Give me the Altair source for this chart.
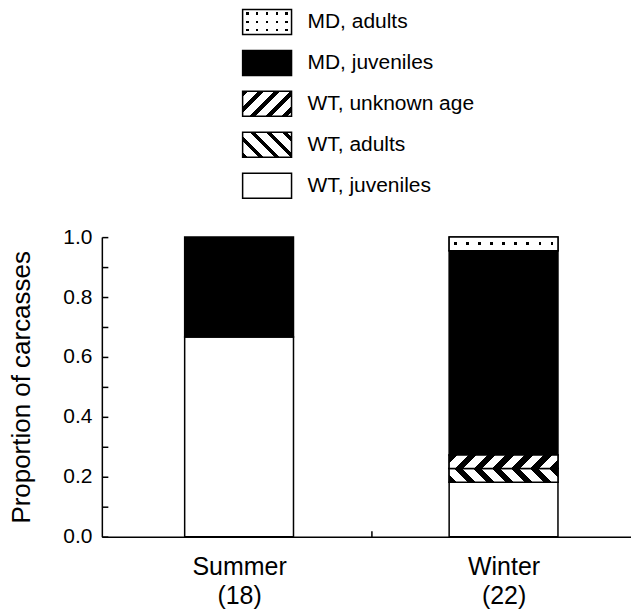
import altair as alt
import pandas as pd

# ---------------- data ----------------
seasons = ["Summer", "Winter"]
season_n = [18, 22]
categories = ["WT, juveniles", "WT, adults", "WT, unknown age", "MD, juveniles", "MD, adults"]  # stacking order, bottom -> top
summer_counts = [12, 0, 0, 6, 0]
winter_counts = [4, 1, 1, 15, 1]
legend_order = ["MD, adults", "MD, juveniles", "WT, unknown age", "WT, adults", "WT, juveniles"]
y_labels = [0.0, 0.2, 0.4, 0.6, 0.8, 1.0]
y_minor = [0.0, 0.1, 0.2, 0.3, 0.4, 0.5, 0.6, 0.7, 0.8, 0.9, 1.0]
y_title = "Proportion of carcasses"

FONT = "Liberation Sans"
W, H = 530, 300          # plot area
BAR_W = 109
X_DOMAIN = [-0.5, 1.463]

rows = []
for si, (s, counts) in enumerate(zip(seasons, [summer_counts, winter_counts])):
    for ci, (c, v) in enumerate(zip(categories, counts)):
        rows.append({"season": s, "sx": si, "category": c, "count": v, "order": ci})
df = pd.DataFrame(rows)
legend_df = pd.DataFrame({"label": legend_order})


# ---------------- pattern helpers (gradients used as fills) ----------------
def hatch(w, h, period, frac, direction):
    n = (w + h) / period
    a = (w + h) / (w * w + h * h)
    if direction == "/":
        x1, y1, x2, y2 = 0, 0, a * w, a * h
    else:
        x1, y1, x2, y2 = 0, 1, a * w, 1 - a * h
    dt = 1.0 / n
    stops = []
    t = 0.0
    while t < 1 - 1e-9:
        b = min(t + frac * dt, 1.0)
        c = min(t + dt, 1.0)
        stops += [(t, "black"), (b, "black"), (b, "white"), (c, "white")]
        t += dt
    return {"gradient": "linear", "x1": x1, "y1": y1, "x2": x2, "y2": y2,
            "stops": [{"offset": round(o, 5), "color": col} for o, col in stops]}


def bands(n, frac, on, off, vertical, shift=0.0):
    dt = 1.0 / n
    stops = []
    for i in range(n):
        t0 = i * dt
        a = t0 + dt * ((1 - frac) / 2 + shift)
        b = t0 + dt * ((1 + frac) / 2 + shift)
        stops += [(t0, off), (a, off), (a, on), (b, on), (b, off), (t0 + dt, off)]
    g = {"gradient": "linear", "x1": 0, "y1": 0, "x2": 0 if vertical else 1, "y2": 1 if vertical else 0,
         "stops": [{"offset": round(min(max(o, 0.0), 1.0), 5), "color": col} for o, col in stops]}
    return g


CLEAR = "rgba(255,255,255,0)"
total_w = sum(winter_counts)
seg_h = {c: v / total_w * H for c, v in zip(categories, winter_counts)}

# ---------------- main chart ----------------
base = (
    alt.Chart(df)
    .transform_stack(stack="count", groupby=["season"], as_=["y0", "y1"], offset="normalize",
                     sort=[alt.SortField("order", order="ascending")])
    .transform_filter("datum.count > 0")
)

x_scale = alt.Scale(domain=X_DOMAIN, nice=False, zero=False)
y_scale = alt.Scale(domain=[0, 1], nice=False, zero=False)

label_arr = "[" + ",".join(f"['{s}','({n})']" for s, n in zip(seasons, season_n)) + "]"

x_axis_main = alt.Axis(values=[0, 1], labelExpr=f"{label_arr}[datum.value]", ticks=False, tickSize=0,
                       domain=True, domainColor="black", domainWidth=1.5, grid=False, title=None,
                       labelFontSize=25, labelLineHeight=29, labelPadding=18, labelColor="black",
                       labelFont=FONT)
y_axis_main = alt.Axis(values=y_labels, format=".1f", ticks=False, tickSize=0, domain=True,
                       domainColor="black", domainWidth=1.5, grid=False, title=y_title,
                       labelFontSize=21, labelPadding=10, labelColor="black", labelFont=FONT,
                       titleFontSize=26, titleFontWeight="normal", titleColor="black",
                       titlePadding=28, titleFont=FONT)
x_axis_tick = alt.Axis(orient="top", offset=-H, values=[0.5], ticks=True, tickSize=6, tickColor="black",
                       tickWidth=1.5, labels=False, domain=False, grid=False, title=None)
y_axis_tick = alt.Axis(orient="right", offset=-W, values=y_minor, ticks=True, tickSize=6,
                       tickColor="black", tickWidth=1.5, labels=False, domain=False, grid=False, title=None)

fill_range = ["black" if c == "MD, juveniles" else "white" for c in categories]

bars = base.mark_bar(size=BAR_W, orient="vertical", stroke="black", strokeWidth=1.5).encode(
    x=alt.X("sx:Q", scale=x_scale, axis=x_axis_main),
    y=alt.Y("y0:Q", scale=y_scale, axis=y_axis_main),
    y2="y1:Q",
    fill=alt.Fill("category:N", scale=alt.Scale(domain=categories, range=fill_range), legend=None),
)


def seg_layer(cat, fill, stroke=True, x_axis=None, y_axis=None):
    kw = dict(size=BAR_W, orient="vertical", fill=fill)
    if stroke:
        kw.update(stroke="black", strokeWidth=1.5)
    else:
        kw.update(strokeWidth=0)
    return base.transform_filter(alt.datum.category == cat).mark_bar(**kw).encode(
        x=alt.X("sx:Q", scale=x_scale, axis=x_axis),
        y=alt.Y("y0:Q", scale=y_scale, axis=y_axis),
        y2="y1:Q",
    )


hx = seg_h["WT, adults"]
hu = seg_h["WT, unknown age"]
hd = seg_h["MD, adults"]

layers = [
    bars,
    seg_layer("WT, adults", hatch(BAR_W, hx, 19, 0.42, "\\"), x_axis=x_axis_tick, y_axis=y_axis_tick),
    seg_layer("WT, unknown age", hatch(BAR_W, hu, 19, 0.45, "/")),
    seg_layer("MD, adults", bands(9, 0.22, "black", "white", vertical=False), stroke=False),
    seg_layer("MD, adults", bands(1, 0.22, CLEAR, "white", vertical=True)),
]

main = (
    alt.layer(*layers)
    .resolve_axis(x="independent", y="independent")
    .properties(width=W, height=H)
)

# ---------------- legend ----------------
LB_W, LB_STEP, LB_PAD = 49, 41, 0.39
lb_h = LB_STEP * (1 - LB_PAD)
LX = 141

leg_y = alt.Y("label:N", sort=legend_order, axis=None,
              scale=alt.Scale(domain=legend_order, paddingInner=LB_PAD, paddingOuter=0))
leg_base = alt.Chart(legend_df)


def leg_box(lab, fill, stroke=True):
    kw = dict(fill=fill)
    if stroke:
        kw.update(stroke="black", strokeWidth=1.5)
    else:
        kw.update(strokeWidth=0)
    return leg_base.transform_filter(alt.datum.label == lab).mark_rect(**kw).encode(
        y=leg_y, x=alt.value(LX), x2=alt.value(LX + LB_W))


leg_layers = [
    leg_box("MD, adults", bands(5, 0.24, "black", "white", vertical=False), stroke=False),
    leg_box("MD, adults", bands(3, 0.28, CLEAR, "white", vertical=True)),
    leg_box("MD, juveniles", "black"),
    leg_box("WT, unknown age", hatch(LB_W, lb_h, 16, 0.33, "/")),
    leg_box("WT, adults", hatch(LB_W, lb_h, 16, 0.33, "\\")),
    leg_box("WT, juveniles", "white"),
    leg_base.mark_text(align="left", baseline="middle", fontSize=21, font=FONT, color="black").encode(
        y=leg_y, x=alt.value(LX + 65), text="label:N"),
]

legend = alt.layer(*leg_layers).properties(width=W, height=LB_STEP * (len(legend_order) - LB_PAD))

chart = (
    alt.vconcat(legend, main, spacing=27)
    .properties(padding={"left": 0, "top": 0, "right": 0, "bottom": 0})
    .configure(font=FONT)
    .configure_view(stroke=None, strokeWidth=0)
)

chart.save("out.html", embed_options={"renderer": "svg", "actions": False})
